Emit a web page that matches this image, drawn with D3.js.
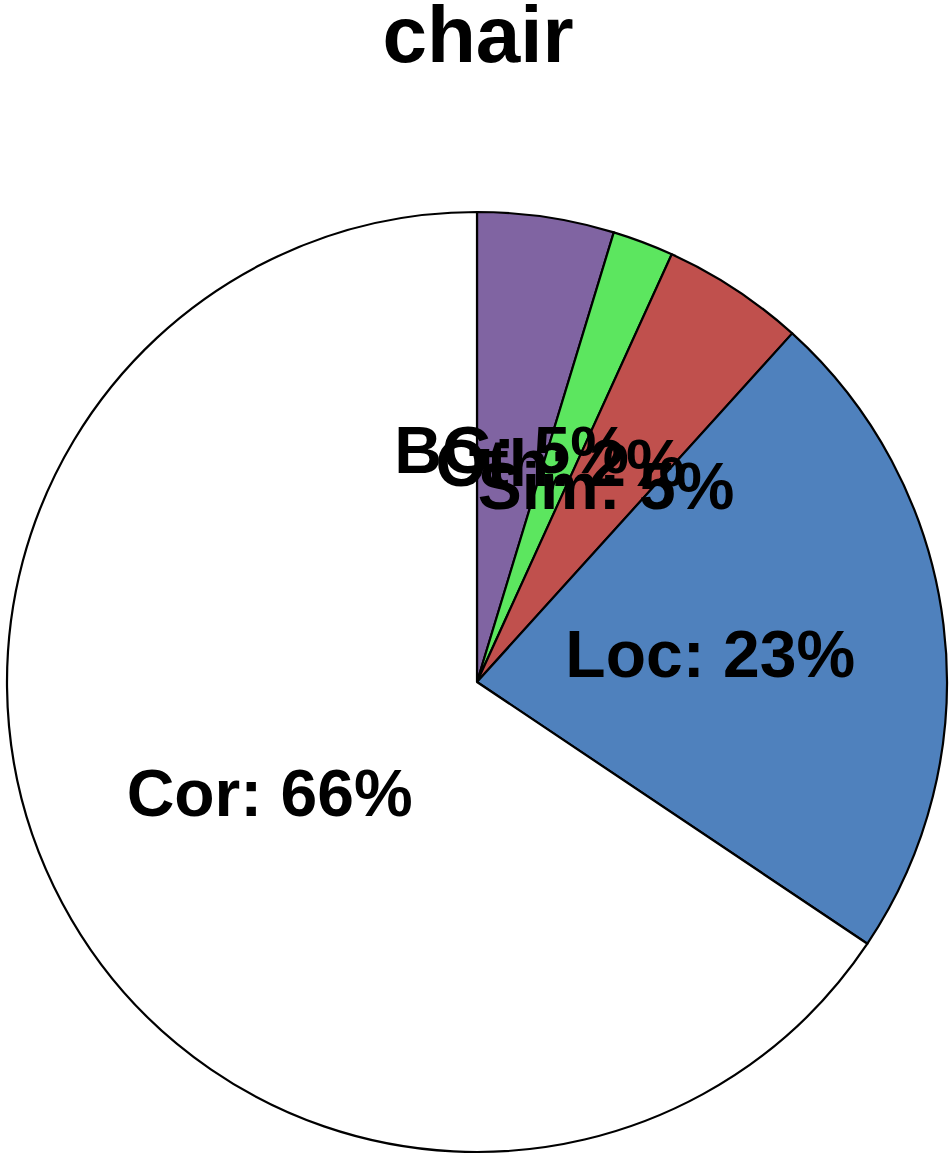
<!DOCTYPE html>
<html>
<head>
<meta charset="utf-8">
<script src="https://cdn.jsdelivr.net/npm/d3@7"></script>
<style>
  body { margin: 0; background: #fff; }
  text { font-family: "Liberation Sans", Arial, Helvetica, sans-serif; font-weight: bold; }
</style>
</head>
<body>
<div id="chart"></div>
<script>
// slice data, clockwise from 12 o'clock
var categories = ["BG", "Oth", "Sim", "Loc", "Cor"];
var shares = [4.7, 2.1, 4.9, 22.7, 65.6];
var labels = ["BG: 5%", "Oth: 2%", "Sim: 5%", "Loc: 23%", "Cor: 66%"];
var colors = ["#8064a2", "#5ce65f", "#c0504d", "#4f81bd", "#ffffff"];

var width = 952, height = 1161;
var cx = 477, cy = 682, radius = 470;

var svg = d3.select("#chart").append("svg")
    .attr("width", width)
    .attr("height", height);

svg.append("text")
    .attr("x", 478)
    .attr("y", 62)
    .attr("text-anchor", "middle")
    .attr("font-size", 80)
    .text("chair");

var slices = categories.map(function (c, i) {
    return {name: c, value: shares[i], label: labels[i], color: colors[i]};
});

// keep the data order, no sorting
var pie = d3.pie().sort(null).value(function (d) { return d.value; });
var arc = d3.arc().innerRadius(0).outerRadius(radius);
var labelArc = d3.arc().innerRadius(radius * 0.5).outerRadius(radius * 0.5);

var g = svg.append("g").attr("transform", "translate(" + cx + "," + cy + ")");
var arcs = pie(slices);

g.selectAll("path.slice")
    .data(arcs)
    .enter().append("path")
    .attr("class", "slice")
    .attr("d", arc)
    .attr("fill", function (d) { return d.data.color; })
    .attr("stroke", "#000")
    .attr("stroke-width", 2.2)
    .attr("stroke-linejoin", "round");

g.selectAll("text.lbl")
    .data(arcs)
    .enter().append("text")
    .attr("class", "lbl")
    .attr("transform", function (d) { return "translate(" + labelArc.centroid(d) + ")"; })
    .attr("text-anchor", "middle")
    .attr("dy", "0.36em")
    .attr("font-size", 66)
    .text(function (d) { return d.data.label; });
</script>
</body>
</html>
